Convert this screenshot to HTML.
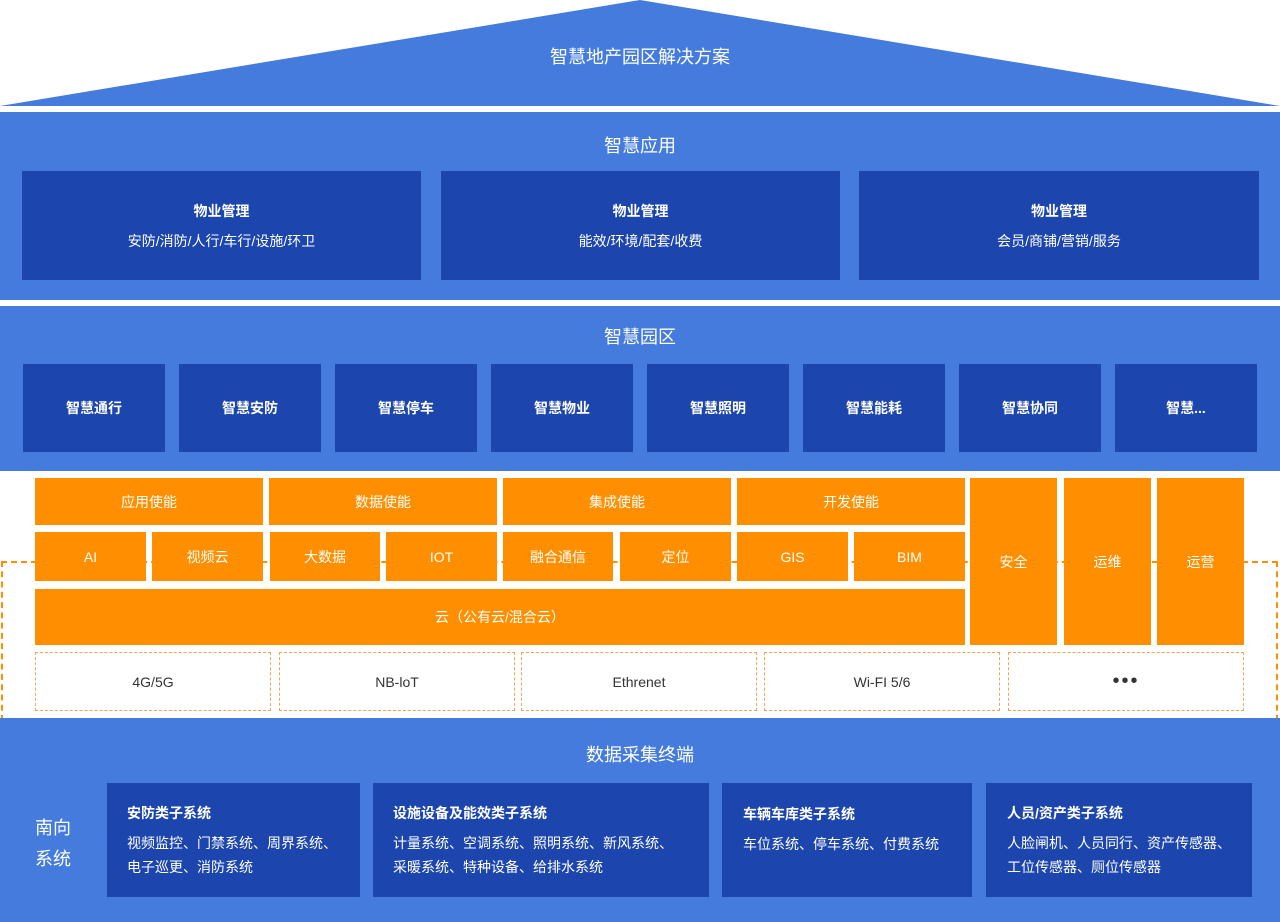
<!DOCTYPE html>
<html><head><meta charset="utf-8"><style>
*{margin:0;padding:0;box-sizing:border-box}
body{width:1280px;height:922px;position:relative;background:#fff;font-family:"Liberation Sans","Noto Sans CJK SC",sans-serif;overflow:hidden}
.a{position:absolute}
.blue{background:#447bdc}
.dk{background:#1c46ad;color:#fff;display:flex;flex-direction:column;align-items:center;justify-content:center}
.or{background:#ff8f00;color:#fff;display:flex;align-items:center;justify-content:center;font-size:14px}
.ds{border:1px dashed #f3a25a;display:flex;align-items:center;justify-content:center;font-size:14px;color:#333}
.t{color:#fff;font-size:18px;width:100%;text-align:center}
</style></head><body>
<svg class="a" style="left:0;top:0" width="1280" height="107"><polygon points="640,0 1280,106 0,106" fill="#447bdc"/><text x="640" y="63" fill="#fff" font-size="18" text-anchor="middle" font-family="Liberation Sans,Noto Sans CJK SC,sans-serif">智慧地产园区解决方案</text></svg>

<div class="a blue" style="left:0;top:112px;width:1280px;height:188px"></div>
<div class="a t" style="top:132px">智慧应用</div>
<div class="a dk" style="left:22px;top:171px;width:399px;height:109px"><b style="font-size:14px">物业管理</b><span style="font-size:14px;margin-top:10px">安防/消防/人行/车行/设施/环卫</span></div>
<div class="a dk" style="left:441px;top:171px;width:399px;height:109px"><b style="font-size:14px">物业管理</b><span style="font-size:14px;margin-top:10px">能效/环境/配套/收费</span></div>
<div class="a dk" style="left:859px;top:171px;width:400px;height:109px"><b style="font-size:14px">物业管理</b><span style="font-size:14px;margin-top:10px">会员/商铺/营销/服务</span></div>

<div class="a blue" style="left:0;top:306px;width:1280px;height:165px"></div>
<div class="a t" style="top:323px">智慧园区</div>
<div class="a dk" style="left:23px;top:364px;width:142px;height:88px;font-weight:bold;font-size:14px">智慧通行</div>
<div class="a dk" style="left:179px;top:364px;width:142px;height:88px;font-weight:bold;font-size:14px">智慧安防</div>
<div class="a dk" style="left:335px;top:364px;width:142px;height:88px;font-weight:bold;font-size:14px">智慧停车</div>
<div class="a dk" style="left:491px;top:364px;width:142px;height:88px;font-weight:bold;font-size:14px">智慧物业</div>
<div class="a dk" style="left:647px;top:364px;width:142px;height:88px;font-weight:bold;font-size:14px">智慧照明</div>
<div class="a dk" style="left:803px;top:364px;width:142px;height:88px;font-weight:bold;font-size:14px">智慧能耗</div>
<div class="a dk" style="left:959px;top:364px;width:142px;height:88px;font-weight:bold;font-size:14px">智慧协同</div>
<div class="a dk" style="left:1115px;top:364px;width:142px;height:88px;font-weight:bold;font-size:14px">智慧...</div>

<div class="a" style="left:1px;top:561px;width:1277px;height:160px;border:2px dashed #ff8f00;border-bottom:none"></div>

<div class="a or" style="left:35px;top:478px;width:228px;height:47px">应用使能</div>
<div class="a or" style="left:269px;top:478px;width:228px;height:47px">数据使能</div>
<div class="a or" style="left:503px;top:478px;width:228px;height:47px">集成使能</div>
<div class="a or" style="left:737px;top:478px;width:228px;height:47px">开发使能</div>
<div class="a or" style="left:35px;top:532px;width:111px;height:49px">AI</div>
<div class="a or" style="left:152px;top:532px;width:111px;height:49px">视频云</div>
<div class="a or" style="left:270px;top:532px;width:110px;height:49px">大数据</div>
<div class="a or" style="left:386px;top:532px;width:111px;height:49px">IOT</div>
<div class="a or" style="left:503px;top:532px;width:110px;height:49px">融合通信</div>
<div class="a or" style="left:620px;top:532px;width:111px;height:49px">定位</div>
<div class="a or" style="left:737px;top:532px;width:111px;height:49px">GIS</div>
<div class="a or" style="left:854px;top:532px;width:111px;height:49px">BIM</div>
<div class="a or" style="left:35px;top:589px;width:930px;height:56px">云（公有云/混合云）</div>
<div class="a or" style="left:970px;top:478px;width:87px;height:167px">安全</div>
<div class="a or" style="left:1064px;top:478px;width:87px;height:167px">运维</div>
<div class="a or" style="left:1157px;top:478px;width:87px;height:167px">运营</div>
<div class="a ds" style="left:35px;top:652px;width:236px;height:59px">4G/5G</div>
<div class="a ds" style="left:279px;top:652px;width:236px;height:59px">NB-loT</div>
<div class="a ds" style="left:521px;top:652px;width:236px;height:59px">Ethrenet</div>
<div class="a ds" style="left:764px;top:652px;width:236px;height:59px">Wi-FI 5/6</div>
<div class="a ds" style="left:1008px;top:652px;width:236px;height:59px;font-size:20px;letter-spacing:2px">•••</div>

<div class="a blue" style="left:0;top:718px;width:1280px;height:204px"></div>
<div class="a t" style="top:741px">数据采集终端</div>
<div class="a" style="left:35px;top:813px;color:#fff;font-size:18px;line-height:31px">南向<br>系统</div>
<div class="a dk" style="left:107px;top:783px;width:253px;height:114px;align-items:flex-start;padding-left:20px;font-size:14px;line-height:24px"><b style="margin-bottom:6px">安防类子系统</b>视频监控、门禁系统、周界系统、<br>电子巡更、消防系统</div>
<div class="a dk" style="left:373px;top:783px;width:336px;height:114px;align-items:flex-start;padding-left:20px;font-size:14px;line-height:24px"><b style="margin-bottom:6px">设施设备及能效类子系统</b>计量系统、空调系统、照明系统、新风系统、<br>采暖系统、特种设备、给排水系统</div>
<div class="a dk" style="left:722px;top:783px;width:250px;height:114px;align-items:flex-start;justify-content:flex-start;padding:19px 0 0 21px;font-size:14px;line-height:24px"><b style="margin-bottom:6px">车辆车库类子系统</b>车位系统、停车系统、付费系统</div>
<div class="a dk" style="left:986px;top:783px;width:266px;height:114px;align-items:flex-start;padding-left:21px;font-size:14px;line-height:24px"><b style="margin-bottom:6px">人员/资产类子系统</b>人脸闸机、人员同行、资产传感器、<br>工位传感器、厕位传感器</div>
</body></html>
